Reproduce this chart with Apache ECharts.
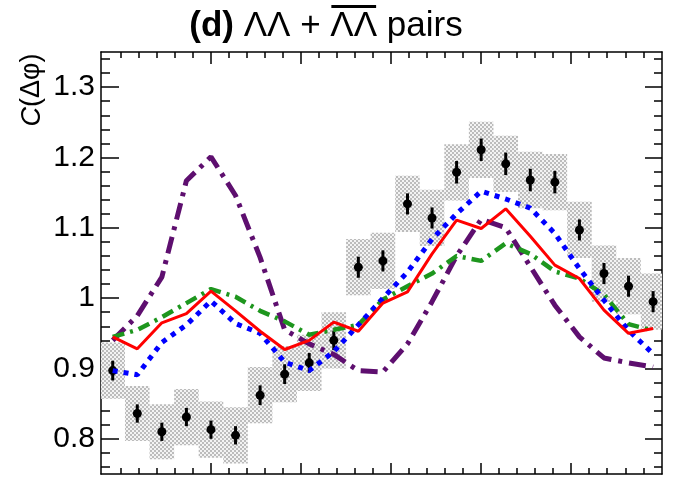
<!DOCTYPE html>
<html>
<head>
<meta charset="utf-8">
<script src="https://cdn.jsdelivr.net/npm/echarts@6/dist/echarts.min.js"></script>
<style>
html,body{margin:0;padding:0;background:#fff}
#chart{width:679px;height:478px}
</style>
</head>
<body>
<div id="chart"></div>
<script>
// bin index along delta-phi (23 bins)
var bins = [0,1,2,3,4,5,6,7,8,9,10,11,12,13,14,15,16,17,18,19,20,21,22];
var dataVal = [0.897,0.836,0.810,0.831,0.813,0.805,0.862,0.892,0.908,0.940,1.044,1.053,1.134,1.114,1.179,1.211,1.191,1.168,1.165,1.097,1.035,1.017,0.995];
var statErr = [0.014,0.013,0.013,0.013,0.013,0.013,0.014,0.014,0.014,0.014,0.015,0.015,0.015,0.015,0.016,0.016,0.016,0.016,0.016,0.015,0.015,0.015,0.015];
var sysErr = [0.040,0.039,0.039,0.040,0.040,0.040,0.040,0.040,0.040,0.040,0.040,0.040,0.040,0.040,0.040,0.040,0.040,0.040,0.040,0.040,0.040,0.040,0.040];
var modelRed = [0.945,0.928,0.965,0.978,1.010,0.982,0.953,0.927,0.940,0.966,0.953,0.993,1.009,1.063,1.111,1.099,1.127,1.088,1.047,1.028,0.983,0.950,0.957];
var modelBlue = [0.897,0.891,0.937,0.962,0.996,0.964,0.950,0.909,0.897,0.924,0.962,1.000,1.037,1.084,1.120,1.152,1.141,1.128,1.092,1.042,0.997,0.954,0.921];
var modelGreen = [0.945,0.955,0.973,0.993,1.013,1.002,0.982,0.967,0.948,0.955,0.962,0.998,1.017,1.035,1.060,1.053,1.078,1.063,1.038,1.028,1.005,0.963,0.954];
var modelPurple = [0.940,0.975,1.030,1.167,1.201,1.146,1.058,0.955,0.935,0.920,0.897,0.895,0.935,0.995,1.060,1.112,1.100,1.045,0.990,0.945,0.915,0.908,0.902];

var xMajor = [4, 7.667, 11.333, 15, 18.667];
var xMinor = [0.333,1.067,1.8,2.533,3.267,4.733,5.467,6.2,6.933,8.4,9.133,9.867,10.6,12.067,12.8,13.533,14.267,15.733,16.467,17.2,17.933,19.4,20.133,20.867,21.6];
var yMajor = [0.8,0.9,1,1.1,1.2,1.3];
var yMinor = [0.76,0.78,0.82,0.84,0.86,0.88,0.92,0.94,0.96,0.98,1.02,1.04,1.06,1.08,1.12,1.14,1.16,1.18,1.22,1.24,1.26,1.28,1.32,1.34];

var xMin = -0.477, xMax = 22.362;

// grey checkered fill for the systematic boxes
var pc = document.createElement('canvas');
pc.width = 4; pc.height = 4;
var pctx = pc.getContext('2d');
pctx.fillStyle = '#f3f3f3';
pctx.fillRect(0,0,4,4);
pctx.fillStyle = '#bcbcbc';
pctx.fillRect(0,0,2,2);
pctx.fillRect(2,2,2,2);
var hatch = {image: pc, repeat: 'repeat'};

var boxData = bins.map(function(b,i){ return [b, dataVal[i], sysErr[i]]; });
var pointData = bins.map(function(b,i){ return [b, dataVal[i], statErr[i]]; });
function line(arr){ return bins.map(function(b,i){ return [b, arr[i]]; }); }

var myChart = echarts.init(document.getElementById('chart'));

function xAx(pos, vals, len, showLine) {
	return {
		type: 'value', position: pos, min: xMin, max: xMax,
		axisLine: {show: showLine, onZero: false, lineStyle: {color: '#000', width: 1.5}},
		axisTick: {show: true, inside: true, length: len, customValues: vals, lineStyle: {color: '#000', width: 1.5}},
		axisLabel: {show: false},
		splitLine: {show: false}
	};
}
function yAx(pos, vals, len, showLine, labels) {
	return {
		type: 'value', position: pos, min: 0.75, max: 1.35,
		axisLine: {show: showLine, onZero: false, lineStyle: {color: '#000', width: 1.5}},
		axisTick: {show: true, inside: true, length: len, customValues: vals, lineStyle: {color: '#000', width: 1.5}},
		axisLabel: labels ? {show: true, customValues: vals, color: '#000', fontSize: 30, fontFamily: 'Liberation Sans', margin: 6,
			formatter: function(v){ return String(Math.round(v*10)/10); }} : {show: false},
		splitLine: {show: false}
	};
}

// title pieces measured so the overline can sit above the second pair
var ctx = document.createElement('canvas').getContext('2d');
function tw(t, f){ ctx.font = f; return ctx.measureText(t).width; }
var fB = 'bold 35px "Liberation Sans"', fN = '35px "Liberation Sans"';
var parts = [['(d) ', fB], ['\u039b\u039b + ', fN], ['\u039b\u039b', fN], [' pairs', fN]];
var total = 0;
parts.forEach(function(p){ p.push(tw(p[0], p[1])); total += p[2]; });
var tx = 326 - total/2;
var gfx = [];
parts.forEach(function(p, k){
	gfx.push({type: 'text', x: tx, y: 26, style: {text: p[0], font: p[1], fill: '#000', verticalAlign: 'middle', align: 'left'}});
	if (k == 2) {
		gfx.push({type: 'rect', shape: {x: tx + 1, y: 5, width: p[2] - 2, height: 3}, style: {fill: '#000'}});
	}
	tx += p[2];
});
gfx.push({
	type: 'text', x: 32, y: 90, rotation: Math.PI/2,
	style: {text: '{i|C}(\u0394\u03c6)', fontSize: 27, fontFamily: 'Liberation Sans', fill: '#000', align: 'center', verticalAlign: 'middle',
		rich: {i: {fontStyle: 'italic', fontSize: 27, fontFamily: 'Liberation Sans'}}}
});

var chartOption = {
	animation: false,
	backgroundColor: '#fff',
	grid: {left: 101, right: 17, top: 52, bottom: 4, containLabel: false, outerBoundsMode: 'none'},
	xAxis: [xAx('bottom', xMajor, 11, true), xAx('bottom', xMinor, 6, false), xAx('top', xMajor, 12, true), xAx('top', xMinor, 6, false)],
	yAxis: [yAx('left', yMajor, 18, true, true), yAx('left', yMinor, 9, false, false), yAx('right', yMajor, 17, true, false), yAx('right', yMinor, 8, false, false)],
	graphic: gfx,
	series: [
		{
			type: 'custom', data: boxData, z: 1,
			renderItem: function(params, api){
				var p1 = api.coord([api.value(0) - 0.5, api.value(1) + api.value(2)]);
				var p2 = api.coord([api.value(0) + 0.5, api.value(1) - api.value(2)]);
				var cs = params.coordSys;
				var r = echarts.graphic.clipRectByRect({x: p1[0], y: p1[1], width: p2[0]-p1[0], height: p2[1]-p1[1]},
					{x: cs.x, y: cs.y, width: cs.width, height: cs.height});
				return r && {type: 'rect', shape: r, style: {fill: hatch}};
			}
		},
		{
			type: 'custom', data: pointData, z: 3,
			renderItem: function(params, api){
				var c = api.coord([api.value(0), api.value(1)]);
				var t = api.coord([api.value(0), api.value(1) + api.value(2)]);
				var b = api.coord([api.value(0), api.value(1) - api.value(2)]);
				return {type: 'group', children: [
					{type: 'line', shape: {x1: c[0], y1: t[1], x2: c[0], y2: b[1]}, style: {stroke: '#000', lineWidth: 3}},
					{type: 'circle', shape: {cx: c[0], cy: c[1], r: 4.5}, style: {fill: '#000'}}
				]};
			}
		},
		{type: 'line', data: line(modelPurple), showSymbol: false, z: 4, lineStyle: {color: '#5e0f6f', width: 5, type: [17,7,4,7]}},
		{type: 'line', data: line(modelGreen), showSymbol: false, z: 4, lineStyle: {color: '#1e961e', width: 4.5, type: [12,6,3,6]}},
		{type: 'line', data: line(modelBlue), showSymbol: false, z: 4, lineStyle: {color: '#0000ff', width: 5, type: [5,6]}},
		{type: 'line', data: line(modelRed), showSymbol: false, z: 5, lineStyle: {color: '#ff0000', width: 3}}
	]
};
myChart.setOption(chartOption);
</script>
</body>
</html>
